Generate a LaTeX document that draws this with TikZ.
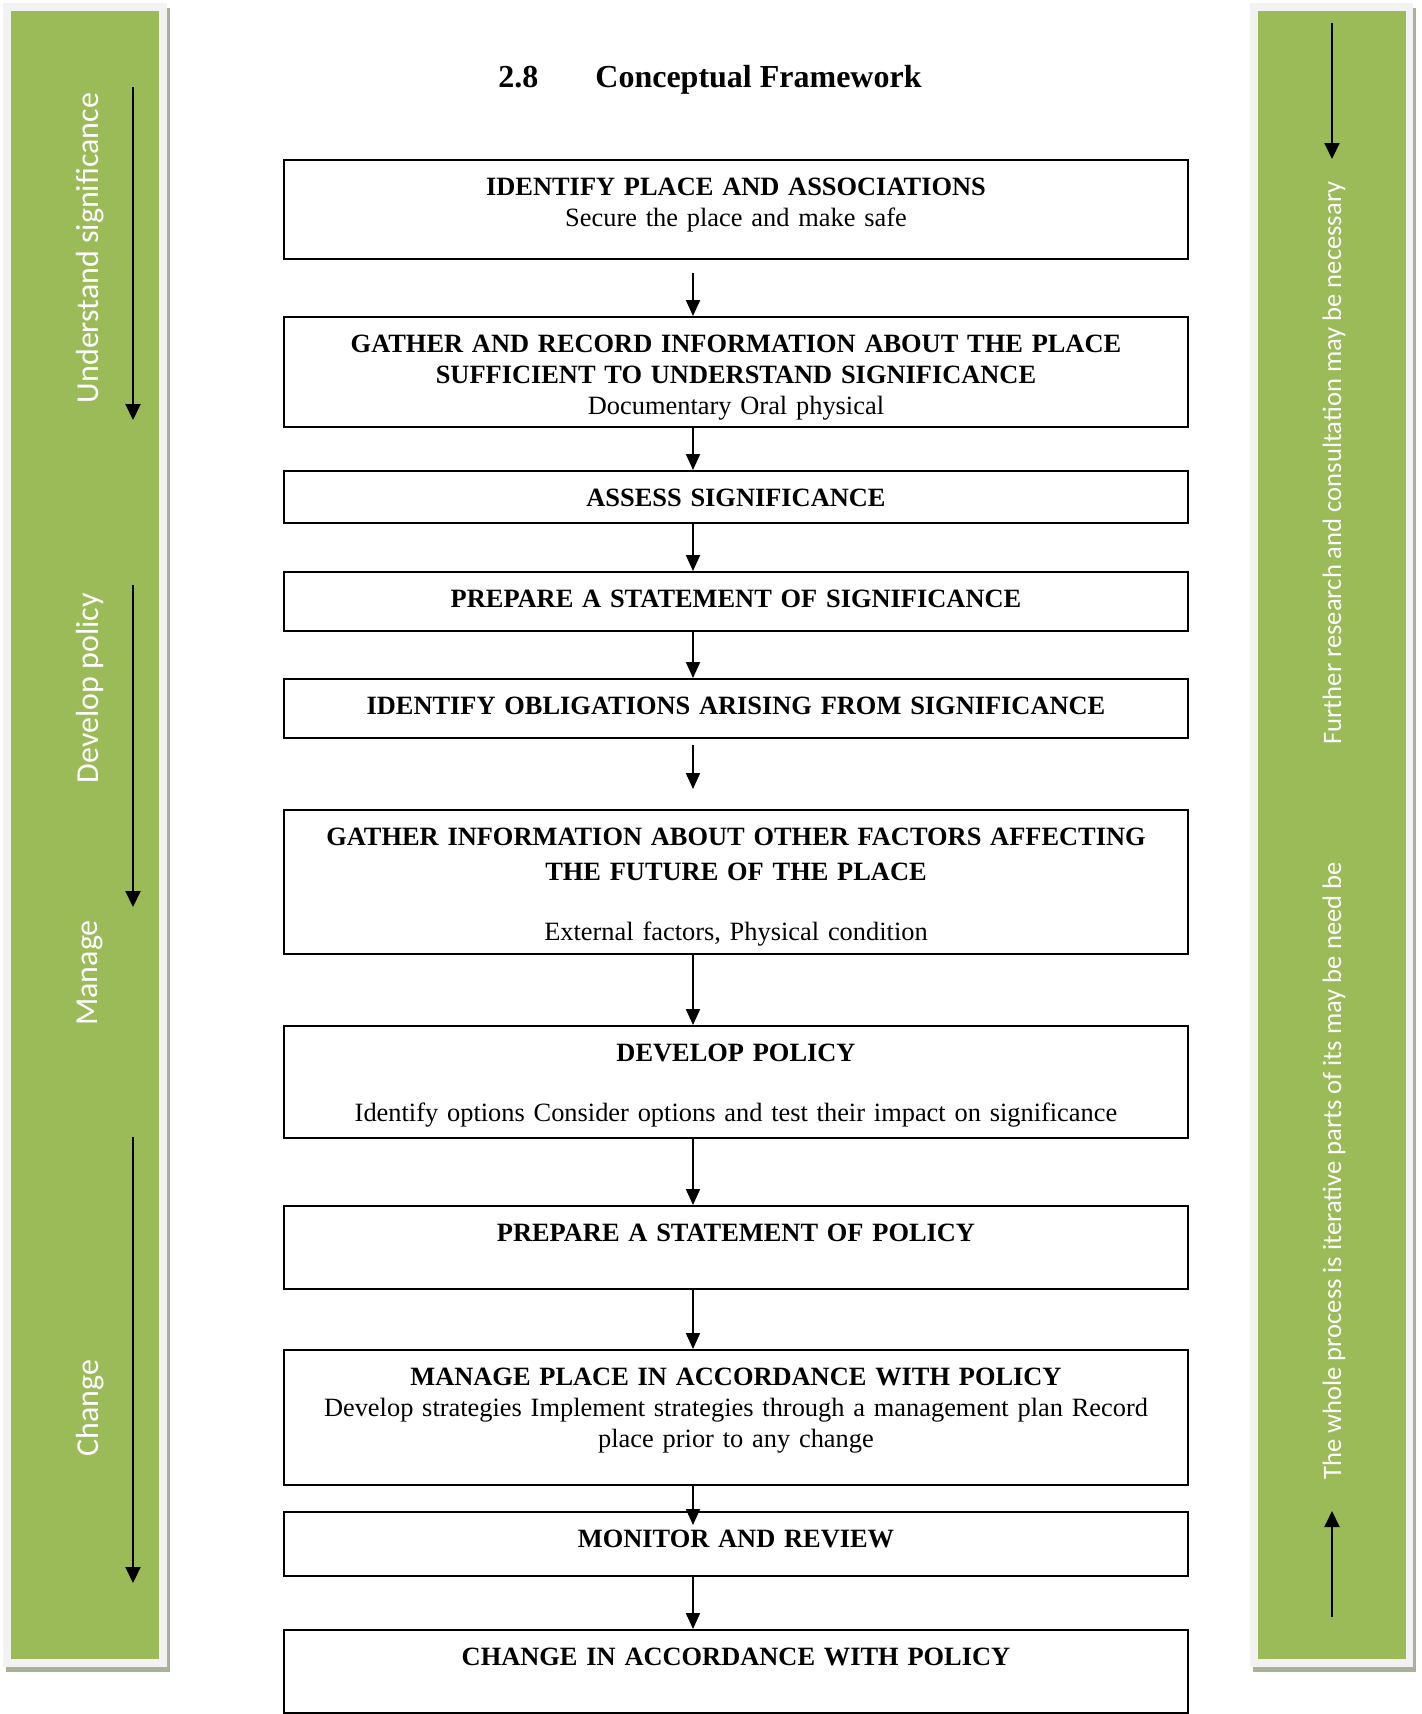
\documentclass[tikz,border=0pt]{standalone}
\usepackage{fontspec}
\setmainfont{Liberation Serif}
\newfontfamily\sidefont{Carlito}
\usepackage{tikz}
\usetikzlibrary{arrows.meta,positioning}
\definecolor{barcol}{RGB}{155,187,89}
\definecolor{framecol}{RGB}{242,242,242}
\definecolor{shadecol}{RGB}{168,178,152}

\begin{document}
\begin{tikzpicture}[
  x=0.5pt, y=-0.5pt,
  node distance=24pt,
  stage/.style={draw, line width=1pt, inner sep=0pt, text width=452pt,
               align=center, text height=17.5pt,
               font=\fontsize{13.2}{15.5}\selectfont},
  flow/.style={-{Triangle[length=8pt, width=7pt]}, line width=1pt},
  sideflow/.style={-{Triangle[length=8pt, width=7.5pt]}, line width=1pt},
  lbl/.style={rotate=90, text=white, inner sep=0pt,
              font=\sidefont\fontsize{16}{19}\selectfont},
  rlbl/.style={lbl, font=\sidefont\fontsize{13.3}{16}\selectfont},
  ]
  \useasboundingbox (0,0) rectangle (1421,1714);
  % side bars
  \fill[shadecol] (6,8) rectangle (170,1672);
  \fill[framecol] (3,3) rectangle (167,1667);
  \fill[barcol] (11,11) rectangle (159,1659);
  \fill[shadecol] (1253,8) rectangle (1416,1672);
  \fill[framecol] (1250,3) rectangle (1413,1667);
  \fill[barcol] (1258,11) rectangle (1406,1659);

  \node[font=\fontsize{16}{19}\selectfont\bfseries, anchor=base west, inner sep=0pt]
    (title) at (498,87.5) {2.8\hspace{28.5pt}Conceptual Framework};

  \node[stage, text depth=32pt, anchor=north] (b1) at (736,159)
    {\textbf{IDENTIFY PLACE AND ASSOCIATIONS}\\ Secure the place and make safe};
  \node[stage, text depth=37.5pt, below=28pt of b1] (b2)
    {\textbf{GATHER AND RECORD INFORMATION ABOUT THE PLACE}\\
     \textbf{SUFFICIENT TO UNDERSTAND SIGNIFICANCE}\\ Documentary Oral physical};
  \node[stage, text depth=8.5pt, below=21pt of b2] (b3) {\textbf{ASSESS SIGNIFICANCE}};
  \node[stage, text depth=12pt, below=23.5pt of b3] (b4) {\textbf{PREPARE A STATEMENT OF SIGNIFICANCE}};
  \node[stage, text depth=12pt, below=23pt of b4] (b5) {\textbf{IDENTIFY OBLIGATIONS ARISING FROM SIGNIFICANCE}};
  \node[stage, text depth=54.5pt, below=35pt of b5] (b6)
    {\textbf{GATHER INFORMATION ABOUT OTHER FACTORS AFFECTING}\\[2pt]
     \textbf{THE FUTURE OF THE PLACE}\\[14.5pt] External factors, Physical condition};
  \node[stage, text depth=38.5pt, below=35pt of b6] (b7)
    {\textbf{DEVELOP POLICY}\\[14.5pt]
     Identify options Consider options and test their impact on significance};
  \node[stage, text depth=24pt, below=33pt of b7] (b8) {\textbf{PREPARE A STATEMENT OF POLICY}};
  \node[stage, text depth=50pt, below=29.5pt of b8] (b9)
    {\textbf{MANAGE PLACE IN ACCORDANCE WITH POLICY}\\
     Develop strategies Implement strategies through a management plan Record\\
     place prior to any change};
  \node[stage, text depth=14.5pt, below=12.5pt of b9] (b10) {\textbf{MONITOR AND REVIEW}};
  \node[stage, text depth=24pt, below=26pt of b10] (b11) {\textbf{CHANGE IN ACCORDANCE WITH POLICY}};

  \draw[flow, shorten <=6.5pt] ([xshift=-21.5pt]b1.south) -- ([xshift=-21.5pt]b2.north);
  \draw[flow] ([xshift=-21.5pt]b2.south) -- ([xshift=-21.5pt]b3.north);
  \draw[flow] ([xshift=-21.5pt]b3.south) -- ([xshift=-21.5pt]b4.north);
  \draw[flow] ([xshift=-21.5pt]b4.south) -- ([xshift=-21.5pt]b5.north);
  \draw[flow, shorten <=3pt, shorten >=10pt] ([xshift=-21.5pt]b5.south) -- ([xshift=-21.5pt]b6.north);
  \draw[flow] ([xshift=-21.5pt]b6.south) -- ([xshift=-21.5pt]b7.north);
  \draw[flow] ([xshift=-21.5pt]b7.south) -- ([xshift=-21.5pt]b8.north);
  \draw[flow] ([xshift=-21.5pt]b8.south) -- ([xshift=-21.5pt]b9.north);
  \draw[flow, shorten >=-7pt] ([xshift=-21.5pt]b9.south) -- ([xshift=-21.5pt]b10.north);
  \draw[flow] ([xshift=-21.5pt]b10.south) -- ([xshift=-21.5pt]b11.north);

  % left bar
  \node[lbl] (understand) at (90,248) {Understand significance};
  \node[lbl] (develop) at (90,688) {Develop policy};
  \node[lbl] (manage) at (90,973) {Manage};
  \node[lbl] (change) at (90,1408) {Change};
  \coordinate (u1) at (133,87);   \coordinate (u2) at (133,420);
  \coordinate (d1) at (133,585);  \coordinate (d2) at (133,907);
  \coordinate (c1) at (133,1137); \coordinate (c2) at (133,1583);
  \draw[sideflow] (u1) -- (u2);
  \draw[sideflow] (d1) -- (d2);
  \draw[sideflow] (c1) -- (c2);

  % right bar
  \node[rlbl] (further) at (1334,463) {Further research and consultation may be necessary};
  \node[rlbl] (iterative) at (1334,1171) {The whole process is iterative parts of its may be need be};
  \coordinate (r1) at (1332,23);   \coordinate (r2) at (1332,159);
  \coordinate (r3) at (1332,1617); \coordinate (r4) at (1332,1511);
  \draw[sideflow] (r1) -- (r2);
  \draw[sideflow] (r3) -- (r4);
\end{tikzpicture}
\end{document}
